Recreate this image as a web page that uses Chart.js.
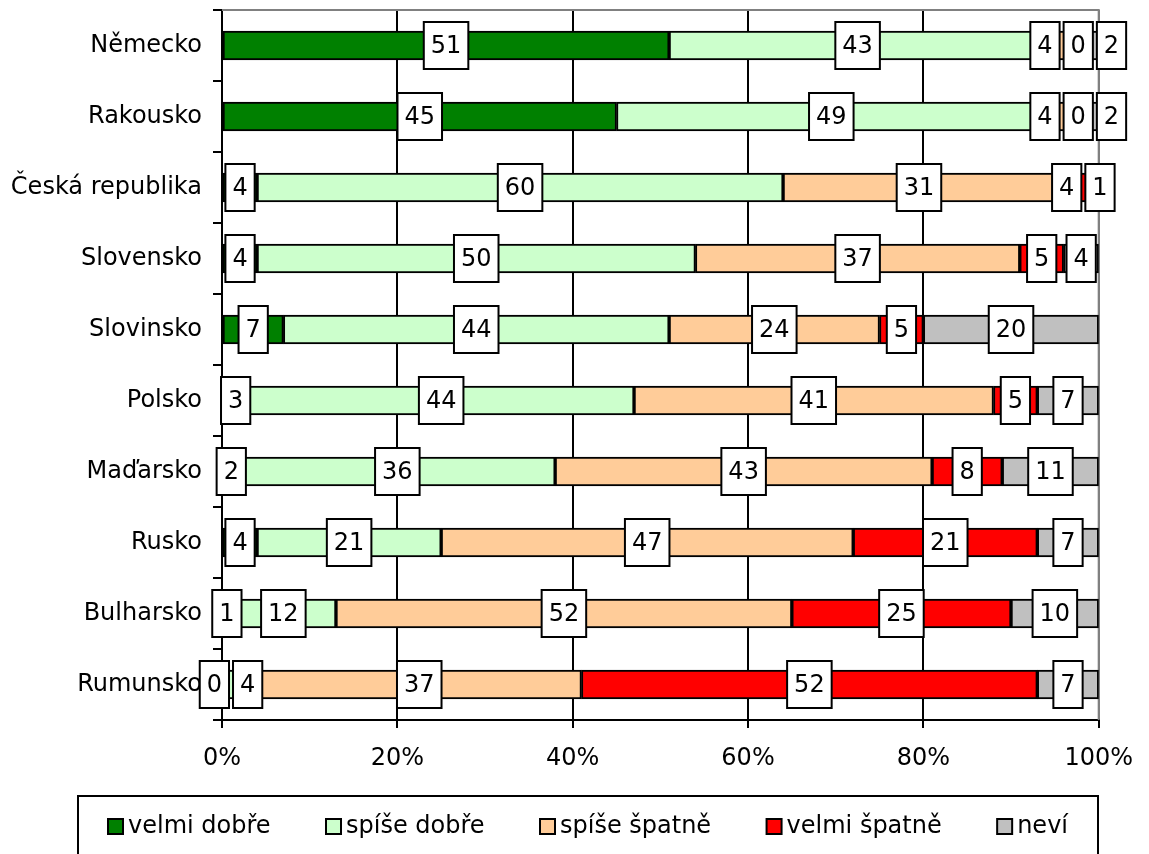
<!DOCTYPE html>
<html>
<head>
<meta charset="utf-8">
<script src="https://cdn.jsdelivr.net/npm/chart.js@4.4.1/dist/chart.umd.min.js"></script>
<style>
    body { margin: 0; background: #fff; }
    canvas { display: block; }
</style>
</head>
<body>
<canvas id="graf" width="1149" height="854"></canvas>
<script>
// Data
const zeme = ["Německo", "Rakousko", "Česká republika", "Slovensko", "Slovinsko",
    "Polsko", "Maďarsko", "Rusko", "Bulharsko", "Rumunsko"];

const velmiDobre = [51, 45, 4, 4, 7, 3, 2, 4, 1, 0];
const spiseDobre = [43, 49, 60, 50, 44, 44, 36, 21, 12, 4];
const spiseSpatne = [4, 4, 31, 37, 24, 41, 43, 47, 52, 37];
const velmiSpatne = [0, 0, 4, 5, 5, 5, 8, 21, 25, 52];
const nevi = [2, 2, 1, 4, 20, 7, 11, 7, 10, 7];

const nazvySerii = ["velmi dobře", "spíše dobře", "spíše špatně", "velmi špatně", "neví"];
const barvy = ["#008000", "#CCFFCC", "#FFCC99", "#FF0000", "#C0C0C0"];

const FONT = "'DejaVu Sans', Verdana, sans-serif";

const hodnoty = [velmiDobre, spiseDobre, spiseSpatne, velmiSpatne, nevi];

// popisky hodnot v bilych ramecich, prekryvajici se odsunout
const popiskyPlugin = {
    id: 'popisky',
    afterDatasetsDraw(chart) {
        const ctx = chart.ctx;
        ctx.save();
        ctx.font = "24px " + FONT;
        ctx.textAlign = "center";
        ctx.textBaseline = "middle";
        const mezera = 4;
        const vyska = 47;

        for (let i = 0; i < zeme.length; i++) {
            let polozky = [];
            chart.data.datasets.forEach((ds, d) => {
                const el = chart.getDatasetMeta(d).data[i];
                const text = String(ds.data[i]);
                polozky.push({
                    text: text,
                    cx: (el.x + el.base) / 2,
                    y: el.y,
                    w: ctx.measureText(text).width + 14
                });
            });

            // shluky
            let shluky = polozky.map(p => ({ items: [p] }));
            const rozlozit = (s) => {
                const celkem = s.items.reduce((a, p) => a + p.w, 0) + mezera * (s.items.length - 1);
                const stred = s.items.reduce((a, p) => a + p.cx, 0) / s.items.length;
                let x = stred - celkem / 2;
                s.items.forEach(p => { p.x = x + p.w / 2; x += p.w + mezera; });
                s.left = stred - celkem / 2;
                s.right = stred + celkem / 2;
            };
            shluky.forEach(rozlozit);
            let zmena = true;
            while (zmena) {
                zmena = false;
                for (let j = 1; j < shluky.length; j++) {
                    if (shluky[j - 1].right + mezera > shluky[j].left) {
                        shluky[j - 1].items = shluky[j - 1].items.concat(shluky[j].items);
                        shluky.splice(j, 1);
                        rozlozit(shluky[j - 1]);
                        zmena = true;
                        break;
                    }
                }
            }

            polozky.forEach(p => {
                ctx.fillStyle = "#fff";
                ctx.fillRect(p.x - p.w / 2, p.y - vyska / 2, p.w, vyska);
                ctx.lineWidth = 2;
                ctx.strokeStyle = "#000";
                ctx.strokeRect(p.x - p.w / 2, p.y - vyska / 2, p.w, vyska);
                ctx.fillStyle = "#000";
                ctx.fillText(p.text, p.x, p.y + 1);
            });
        }
        ctx.restore();
    }
};

// horni a prava sediva hranice + legenda v ramecku
const ramecekPlugin = {
    id: 'ramecek',
    beforeDatasetsDraw(chart) {
        const a = chart.chartArea;
        const ctx = chart.ctx;
        ctx.save();
        ctx.strokeStyle = "#808080";
        ctx.lineWidth = 2;
        ctx.beginPath();
        ctx.moveTo(a.left, a.top);
        ctx.lineTo(a.right, a.top);
        ctx.lineTo(a.right, a.bottom);
        ctx.stroke();
        ctx.restore();
    },
    afterDraw(chart) {
        const ctx = chart.ctx;
        ctx.save();
        const boxL = 78, boxR = 1098, boxT = 796, boxB = 864;
        ctx.strokeStyle = "#000";
        ctx.lineWidth = 2;
        ctx.strokeRect(boxL, boxT, boxR - boxL, boxB - boxT);

        ctx.font = "24px " + FONT;
        ctx.textBaseline = "middle";
        ctx.textAlign = "left";
        const sirky = nazvySerii.map(n => 20 + ctx.measureText(n).width);
        const soucet = sirky.reduce((a, b) => a + b, 0);
        const okraj = 30;
        const gap = (boxR - boxL - 2 * okraj - soucet) / (nazvySerii.length - 1);
        let x = boxL + okraj;
        const yc = 827;
        nazvySerii.forEach((n, k) => {
            ctx.fillStyle = barvy[k];
            ctx.fillRect(x, yc - 8, 15, 15);
            ctx.lineWidth = 2;
            ctx.strokeStyle = "#000";
            ctx.strokeRect(x, yc - 8, 15, 15);
            ctx.fillStyle = "#000";
            ctx.fillText(n, x + 20, yc);
            x += sirky[k] + gap;
        });
        ctx.restore();
    }
};

new Chart(document.getElementById("graf"), {
    type: 'bar',
    data: {
        labels: zeme,
        datasets: nazvySerii.map((n, k) => ({
            label: n,
            data: hodnoty[k],
            backgroundColor: barvy[k],
            borderColor: "#000",
            borderWidth: 2,
            borderSkipped: false,
            barThickness: 29
        }))
    },
    options: {
        indexAxis: 'y',
        responsive: false,
        animation: false,
        layout: { padding: { top: 10, right: 49, left: 0, bottom: 0 } },
        plugins: {
            legend: { display: false },
            tooltip: { enabled: false }
        },
        scales: {
            x: {
                stacked: true,
                min: 0,
                max: 100,
                afterFit: (s) => { s.height = 134; },
                ticks: {
                    stepSize: 20,
                    padding: 16,
                    color: "#000",
                    font: { family: FONT, size: 24 },
                    callback: (v) => v + "%"
                },
                grid: {
                    color: (c) => c.tick && c.tick.value === 100 ? "#808080" : "#000",
                    tickColor: "#000",
                    lineWidth: 2,
                    tickLength: 8
                },
                border: { color: "#000", width: 2 }
            },
            y: {
                stacked: true,
                afterFit: (s) => {
                    s.width = 222;
                    s.paddingTop = 0;
                    s.paddingBottom = 0;
                },
                ticks: {
                    padding: 11,
                    color: "#000",
                    font: { family: FONT, size: 24 }
                },
                grid: {
                    offset: true,
                    drawOnChartArea: false,
                    color: "#000",
                    lineWidth: 2,
                    tickLength: 9
                },
                border: { color: "#000", width: 2 }
            }
        }
    },
    plugins: [ramecekPlugin, popiskyPlugin]
});
</script>
</body>
</html>
